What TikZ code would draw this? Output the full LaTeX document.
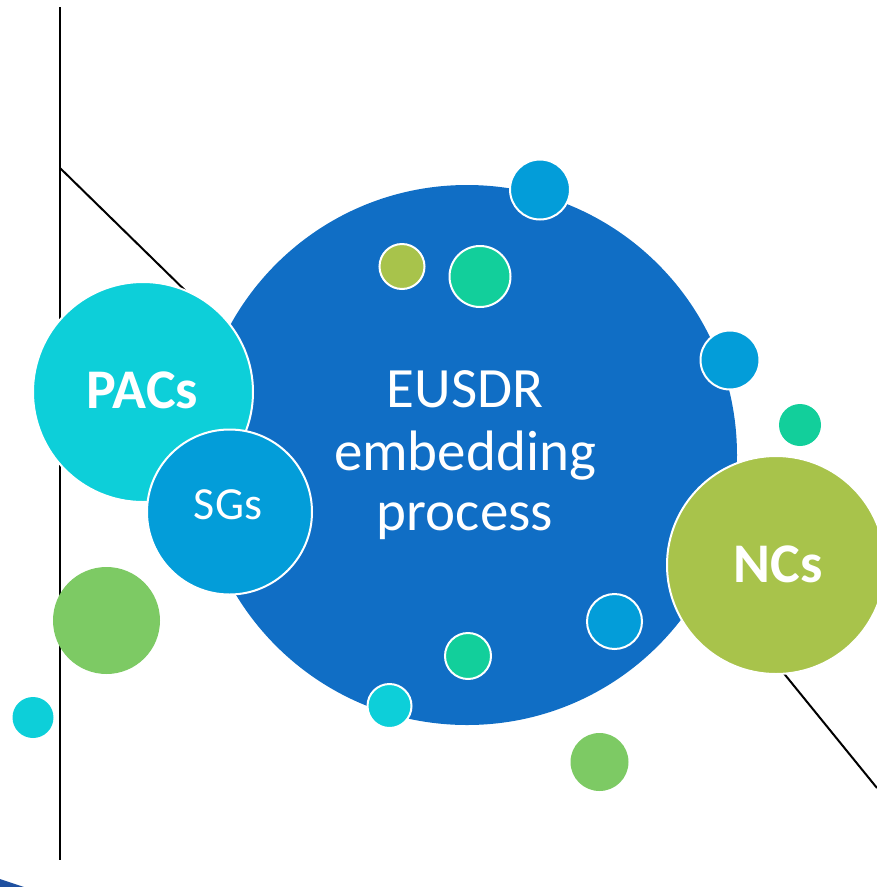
\documentclass[tikz,border=0pt]{standalone}
\usepackage{fontspec}
\setmainfont{Carlito}
\definecolor{bigblue}{RGB}{16,110,197}
\definecolor{cyanc}{RGB}{13,207,217}
\definecolor{skyb}{RGB}{3,157,217}
\definecolor{tealc}{RGB}{18,207,155}
\definecolor{olivec}{RGB}{168,195,75}
\definecolor{greenc}{RGB}{125,202,100}
\definecolor{darkb}{RGB}{30,80,160}
\begin{document}
\begin{tikzpicture}[x=1pt,y=-1pt,
  bub/.style={circle,inner sep=0pt,outer sep=0pt,minimum size=#1,draw=white,line width=2pt},
  plain/.style={circle,inner sep=0pt,outer sep=0pt,minimum size=#1},
  lbl/.style={text=white,anchor=base,inner sep=0pt},
  conn/.style={line width=2pt,black}]
\useasboundingbox (0,0) rectangle (877,887);
\clip (0,0) rectangle (877,887);
% connector end points
\coordinate (vtop) at (60,7);
\coordinate (vbot) at (60,860);
\coordinate (vknee) at (60,168);
\coordinate (dgend) at (200,305);
\coordinate (rstart) at (760,644);
\coordinate (rend) at (877,788);
\draw[conn] (vtop) -- (vbot);
\draw[conn] (vknee) -- (dgend);
\draw[conn] (rstart) -- (rend);
% bottom-left sliver
\fill[darkb] (0,879) -- (24,887) -- (0,887) -- cycle;
% main circle
\node[plain=540pt,fill=bigblue] (main) at (467,455) {};
\node[bub=220pt,fill=cyanc] (pacs) at (143,392) {};
\node[bub=165pt,fill=skyb] (sgs) at (229.5,512) {};
\node[bub=218pt,fill=olivec] (ncs) at (776,565) {};
% small bubbles
\node[bub=60pt,fill=skyb] (b1) at (540,189.5) {};
\node[bub=45pt,fill=olivec] (b2) at (402,266.5) {};
\node[bub=61pt,fill=tealc] (b3) at (480,276.5) {};
\node[bub=59pt,fill=skyb] (b4) at (730,360) {};
\node[plain=42pt,fill=tealc] (b5) at (800,425) {};
\node[plain=107pt,fill=greenc] (b6) at (106.5,620.5) {};
\node[plain=41pt,fill=cyanc] (b7) at (33,717.5) {};
\node[bub=46pt,fill=tealc] (b8) at (468,656) {};
\node[bub=44pt,fill=cyanc] (b9) at (389.5,706) {};
\node[bub=55pt,fill=skyb] (b10) at (614.5,621.5) {};
\node[plain=58pt,fill=greenc] (b11) at (599.5,762) {};
% texts
\node[lbl,font=\fontsize{56}{60}\selectfont\bfseries] (tpacs) at (142.5,408) {PACs};
\node[lbl,font=\fontsize{46}{50}\selectfont] (tsgs) at (228,519) {SGs};
\node[lbl,font=\fontsize{56}{60}\selectfont\bfseries] (tncs) at (778,582) {NCs};
\node[lbl,font=\fontsize{57}{60}\selectfont] (t1) at (465,407) {EUSDR};
\node[lbl,font=\fontsize{57}{60}\selectfont] (t2) at (465,470) {embedding};
\node[lbl,font=\fontsize{57}{60}\selectfont] (t3) at (465,530) {process};
\end{tikzpicture}
\end{document}
